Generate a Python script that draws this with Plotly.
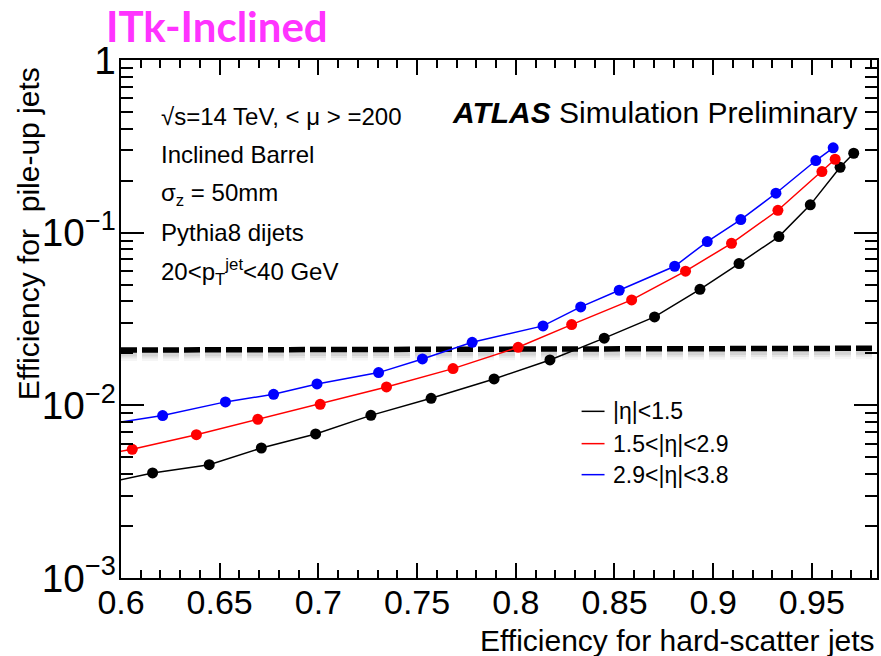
import plotly.graph_objects as go

# Pile-up jet efficiency vs hard-scatter jet efficiency, three |eta| bins
series_names = ["|η|&lt;1.5", "1.5&lt;|η|&lt;2.9", "2.9&lt;|η|&lt;3.8"]
series_colors = ["#000000", "#FF0000", "#0000FF"]

hs_eff_central = [0.585, 0.616, 0.6447, 0.6711, 0.6986, 0.7266, 0.7571, 0.7890,
                  0.8173, 0.8448, 0.8703, 0.8933, 0.9131, 0.9333, 0.9492, 0.9643, 0.9712]
pu_eff_central = [0.0034, 0.00406, 0.00453, 0.00566, 0.00683, 0.00875, 0.01098, 0.01422,
                  0.01832, 0.0245, 0.03253, 0.04699, 0.0662, 0.0949, 0.1449, 0.2393, 0.2884]

hs_eff_mid = [0.585, 0.6057, 0.6382, 0.6693, 0.7009, 0.7345, 0.7682, 0.8012,
              0.8283, 0.8587, 0.886, 0.9093, 0.9328, 0.9551, 0.9618]
pu_eff_mid = [0.00505, 0.00556, 0.00676, 0.0083, 0.01014, 0.01278, 0.01632, 0.02168,
              0.02935, 0.0408, 0.0598, 0.0868, 0.1348, 0.226, 0.2662]

hs_eff_fwd = [0.585, 0.6211, 0.6529, 0.6773, 0.6993, 0.7305, 0.7527, 0.7779,
              0.8138, 0.8329, 0.8524, 0.8805, 0.8970, 0.914, 0.9318, 0.952, 0.9608]
pu_eff_fwd = [0.00755, 0.00872, 0.01047, 0.01158, 0.0133, 0.01547, 0.01857, 0.02317,
              0.02884, 0.03716, 0.0464, 0.0639, 0.0888, 0.119, 0.1692, 0.2617, 0.31]

series_x = [hs_eff_central, hs_eff_mid, hs_eff_fwd]
series_y = [pu_eff_central, pu_eff_mid, pu_eff_fwd]

# 2% pile-up working point reference line
wp_x = [0.6, 0.9805]
wp_y = [0.0209, 0.0214]

info_lines = [
    "√s=14 TeV, &lt; μ &gt; =200",
    "Inclined Barrel",
    "σ<sub>z</sub> = 50mm",
    "Pythia8 dijets",
    "20&lt;p<sub>T</sub><sup>jet</sup>&lt;40 GeV",
]

FONT = "Liberation Sans, Arial, Helvetica, sans-serif"

# plot-area geometry in pixels, used to place free text
L, R, T, B = 120.7, 879.0, 60.5, 578.3


def px_x(px):
    return (px - L) / (R - L)


def px_y(py):
    return (B - py) / (B - T)


fig = go.Figure()

# soft shadow under the dashed working-point line
for shift, width, alpha in [(6, 10, 0.04), (5, 7, 0.06), (4, 5, 0.08)]:
    k = 10 ** (-shift / 172.6)
    fig.add_trace(go.Scatter(
        x=wp_x, y=[v * k for v in wp_y], mode="lines",
        line=dict(color=f"rgba(0,0,0,{alpha})", width=width, dash="16px,5px"),
        showlegend=False, hoverinfo="skip"))

fig.add_trace(go.Scatter(
    x=wp_x, y=wp_y, mode="lines",
    line=dict(color="black", width=5.5, dash="16px,5px"),
    showlegend=False, hoverinfo="skip"))

for xs, ys, name, col in zip(series_x, series_y, series_names, series_colors):
    fig.add_trace(go.Scatter(
        x=xs, y=ys, mode="lines+markers", name=name,
        line=dict(color=col, width=1.5),
        marker=dict(color=col, size=11),
        showlegend=False))

annotations = []

# title
annotations.append(dict(
    text="<b>ITk-Inclined</b>", x=px_x(217), y=px_y(27), xref="paper", yref="paper",
    xanchor="center", yanchor="middle", showarrow=False,
    font=dict(family="Lato, Open Sans, sans-serif", size=42, color="#FF33FF")))

# info block
info_y = [117, 155, 195, 233, 272]
for txt, py in zip(info_lines, info_y):
    annotations.append(dict(
        text=txt, x=px_x(159), y=px_y(py), xref="paper", yref="paper",
        xanchor="left", yanchor="middle", showarrow=False,
        font=dict(family=FONT, size=24, color="black")))

annotations.append(dict(
    text="<b><i>ATLAS</i></b> Simulation Preliminary", x=px_x(451), y=px_y(113),
    xref="paper", yref="paper", xanchor="left", yanchor="middle", showarrow=False,
    font=dict(family=FONT, size=30, color="black")))

# legend
shapes = []
legend_rows = [411.7, 444, 475]
for name, col, py in zip(series_names, series_colors, legend_rows):
    shapes.append(dict(type="line", xref="paper", yref="paper",
                       x0=px_x(582.7), x1=px_x(605.7), y0=px_y(py), y1=px_y(py),
                       line=dict(color=col, width=1.5)))
    annotations.append(dict(
        text=name, x=px_x(612), y=px_y(py), xref="paper", yref="paper",
        xanchor="left", yanchor="middle", showarrow=False,
        font=dict(family=FONT, size=23, color="black")))

# axis titles
annotations.append(dict(
    text="Efficiency for hard-scatter jets", x=px_x(879), y=px_y(641),
    xref="paper", yref="paper", xanchor="right", yanchor="middle", showarrow=False,
    font=dict(family=FONT, size=30, color="black")))
annotations.append(dict(
    text="Efficiency for  pile-up jets", x=px_x(28), y=px_y(234),
    xref="paper", yref="paper", xanchor="center", yanchor="middle", showarrow=False,
    textangle=-90, font=dict(family=FONT, size=30, color="black")))

fig.update_layout(
    width=881, height=656,
    margin=dict(l=121, r=2, t=60, b=78),
    paper_bgcolor="white", plot_bgcolor="white",
    font=dict(family=FONT, size=33, color="black"),
    annotations=annotations, shapes=shapes,
    showlegend=False,
)

fig.update_xaxes(
    range=[0.6, 0.983], dtick=0.05, tick0=0.6,
    showgrid=False, zeroline=False,
    showline=True, linecolor="black", linewidth=2, mirror="allticks",
    ticks="inside", ticklen=15, tickwidth=1.5, tickcolor="black",
    ticklabelstandoff=-7,
    minor=dict(ticks="inside", ticklen=8, tickwidth=1.5, tickcolor="black", dtick=0.01, showgrid=False),
    tickfont=dict(family=FONT, size=34),
)

fig.update_yaxes(
    type="log", range=[-3, 0], dtick=1, exponentformat="power",
    showgrid=False, zeroline=False,
    showline=True, linecolor="black", linewidth=2, mirror="allticks",
    ticks="inside", ticklen=23, tickwidth=1.5, tickcolor="black",
    ticklabelstandoff=-3,
    minor=dict(ticks="inside", ticklen=12, tickwidth=1.5, tickcolor="black", dtick="D1", showgrid=False),
    tickfont=dict(family=FONT, size=31),
)

fig.write_html("out.html")
